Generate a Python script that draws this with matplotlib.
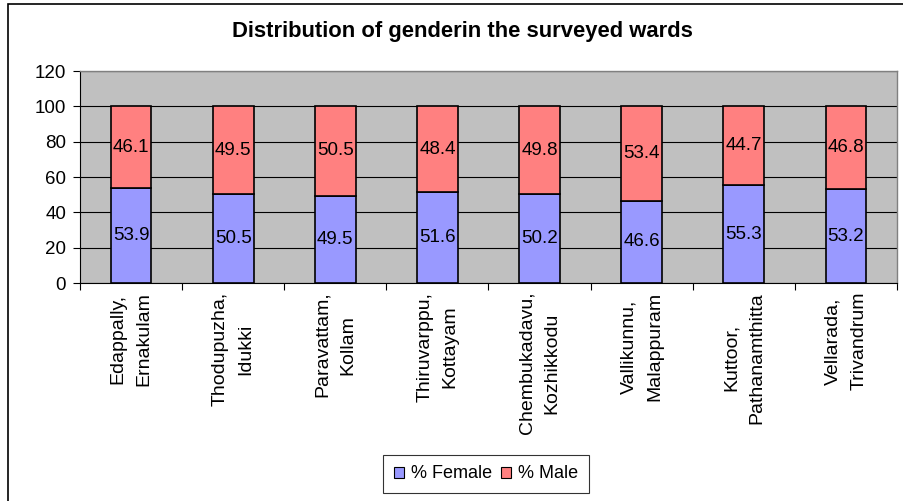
import matplotlib.pyplot as plt
from matplotlib.patches import Rectangle
import numpy as np

plt.rcParams["font.family"] = ["Liberation Sans", "DejaVu Sans"]

# Data
wards = [
    "Edappally,\nErnakulam",
    "Thodupuzha,\nIdukki",
    "Paravattam,\nKollam",
    "Thiruvarppu,\nKottayam",
    "Chembukadavu,\nKozhikkodu",
    "Vallikunnu,\nMalappuram",
    "Kuttoor,\nPathanamthitta",
    "Vellarada,\nTrivandrum",
]
female = [53.9, 50.5, 49.5, 51.6, 50.2, 46.6, 55.3, 53.2]
male = [46.1, 49.5, 50.5, 48.4, 49.8, 53.4, 44.7, 46.8]
yticks = [0, 20, 40, 60, 80, 100, 120]

FEMALE_COLOR = "#9999FF"
MALE_COLOR = "#FF8080"

fig = plt.figure(figsize=(9.04, 5.01), dpi=100)
ax = fig.add_axes([80 / 904, 1 - 283 / 501, 817 / 904, 212 / 501])
ax.set_facecolor("#C0C0C0")

x = np.arange(len(wards))
bw = 0.4
ax.bar(x, female, bw, color=FEMALE_COLOR, edgecolor="black", linewidth=1.2, label="% Female", zorder=3)
ax.bar(x, male, bw, bottom=female, color=MALE_COLOR, edgecolor="black", linewidth=1.2, label="% Male", zorder=3)

for i in range(len(wards)):
    ax.text(x[i], female[i] / 2, f"{female[i]}", ha="center", va="center", fontsize=13.5, zorder=4)
    ax.text(x[i], female[i] + male[i] / 2, f"{male[i]}", ha="center", va="center", fontsize=13.5, zorder=4)

ax.set_xlim(-0.5, len(wards) - 0.5)
ax.set_ylim(0, 120)
ax.set_yticks(yticks)
ax.set_yticklabels([str(v) for v in yticks], fontsize=13.5)
ax.yaxis.grid(True, color="black", linewidth=0.8, zorder=0)
ax.set_axisbelow(True)

ax.set_xticks(np.arange(len(wards) + 1) - 0.5)
ax.set_xticklabels([])
ax.tick_params(axis="x", length=5, width=0.8, color="black")
ax.tick_params(axis="y", length=5, width=0.8, color="black", pad=5)
for i, w in enumerate(wards):
    ax.text(x[i], -5, w, rotation=90, ha="center", va="top", multialignment="center",
            fontsize=14, linespacing=1.65)

for side in ["top", "right"]:
    ax.spines[side].set_color("#808080")
    ax.spines[side].set_linewidth(1.0)
ax.spines["left"].set_color("black")
ax.spines["bottom"].set_color("black")

fig.text(462 / 904, 1 - 32 / 501, "Distribution of genderin the surveyed wards",
         ha="center", va="center", fontsize=15.8, fontweight="bold")

leg = ax.legend(loc="center", bbox_to_anchor=(486 / 904, 1 - 474 / 501),
                bbox_transform=fig.transFigure, ncol=2, frameon=True, fontsize=13,
                handlelength=0.55, handleheight=0.55, handletextpad=0.4, columnspacing=0.5,
                borderpad=0.6, fancybox=False, edgecolor="black")
leg.get_frame().set_linewidth(0.8)
for h in leg.legend_handles:
    h.set_linewidth(0.8)

# outer chart border
fig.patches.append(Rectangle((8 / 904, -0.01), 1.0, 1 - 4 / 501 + 0.01, transform=fig.transFigure,
                             fill=False, edgecolor="black", linewidth=1.2))

fig.savefig("out.png", dpi=100)
